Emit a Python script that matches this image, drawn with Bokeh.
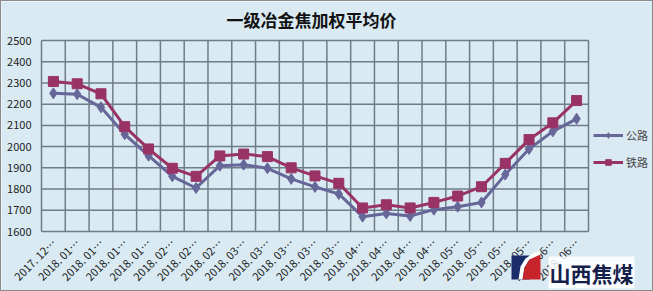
import math
from bokeh.plotting import figure
from bokeh.models import (Legend, LegendItem, FixedTicker, Label, Range1d, BoxAnnotation,
                          PolyAnnotation)
from bokeh.embed import file_html
from bokeh.resources import INLINE

title = "一级冶金焦加权平均价"
x_labels = ["2017. 12…", "2018. 01…", "2018. 01…", "2018. 01…", "2018. 01…",
            "2018. 02…", "2018. 02…", "2018. 02…", "2018. 03…", "2018. 03…",
            "2018. 03…", "2018. 03…", "2018. 03…", "2018. 04…", "2018. 04…",
            "2018. 04…", "2018. 04…", "2018. 05…", "2018. 05…", "2018. 05…",
            "2018. 05…", "2018. 06…", "2018. 06…"]
road = [2251, 2247, 2185, 2058, 1957, 1860, 1805, 1910, 1915, 1898, 1848, 1810,
        1777, 1670, 1685, 1673, 1703, 1717, 1737, 1868, 1989, 2072, 2131]
rail = [2307, 2296, 2249, 2094, 1989, 1898, 1860, 1956, 1965, 1953, 1900, 1862,
        1827, 1711, 1726, 1711, 1737, 1767, 1811, 1921, 2033, 2112, 2217]
series_names = ["公路", "铁路"]
y_ticks = list(range(1600, 2501, 100))
y_min, y_max = 1600, 2500
logo_text = "山西焦煤"

BG = "#D9EAF3"
GRID = "#6F7C89"
C_ROAD = "#666699"
C_RAIL = "#993366"
FONT = "Noto Sans CJK SC"

n = len(x_labels)
xs = list(range(n))

# pixel layout of the plotting area inside the canvas (canvas = frame)
PX_LEFT, PX_PLOT_W = 40, 547
PX_TOP, PX_PLOT_H = 39, 191
FW, FH = 651, 289
ux = PX_PLOT_W / n
uy = PX_PLOT_H / (y_max - y_min)
x0 = -0.5 - PX_LEFT / ux
x1 = x0 + FW / ux
y1 = y_max + PX_TOP / uy
y0 = y1 - FH / uy


def cx(px):
    return x0 + px / ux


def cy(py):
    return y1 - py / uy


p = figure(frame_width=FW, frame_height=FH, output_backend="svg", toolbar_location=None,
           x_range=Range1d(x0, x1), y_range=Range1d(y0, y1),
           min_border_left=0, min_border_right=0, min_border_top=0,
           min_border_bottom=0,
           background_fill_color=BG, border_fill_color=BG,
           styles={"border": "1px solid #8A8A8A"})
p.outline_line_color = None
p.grid.visible = False

# plot-area grid drawn through the scales from the tick arrays
bounds = [i - 0.5 for i in range(n + 1)]
p.segment(x0=[-0.5] * len(y_ticks), x1=[n - 0.5] * len(y_ticks), y0=y_ticks, y1=y_ticks,
          line_color=GRID, line_width=1.5)
p.segment(x0=bounds, x1=bounds, y0=[y_min] * len(bounds), y1=[y_max] * len(bounds),
          line_color=GRID, line_width=1.5)

p.xaxis.ticker = FixedTicker(ticks=xs)
p.xaxis.major_label_overrides = {i: s for i, s in enumerate(x_labels)}
p.xaxis.major_label_orientation = math.pi / 4
p.xaxis.fixed_location = y_min
p.yaxis.ticker = FixedTicker(ticks=y_ticks)
p.yaxis.fixed_location = -0.5
for ax in (p.xaxis, p.yaxis):
    ax.axis_line_color = None
    ax.major_tick_line_color = None
    ax.minor_tick_line_color = None
    ax.major_label_text_font = FONT
    ax.major_label_text_font_size = "11px"
    ax.major_label_text_color = "#222222"
p.yaxis.major_label_standoff = 4
p.xaxis.major_label_standoff = 3

l1 = p.line(xs, road, line_color=C_ROAD, line_width=3)
s1 = p.scatter(xs, road, marker="diamond", size=11, fill_color=C_ROAD, line_color=C_ROAD)
l2 = p.line(xs, rail, line_color=C_RAIL, line_width=3)
s2 = p.scatter(xs, rail, marker="square", size=10, fill_color=C_RAIL, line_color=C_RAIL)

legend = Legend(items=[LegendItem(label=series_names[0], renderers=[l1, s1]),
                       LegendItem(label=series_names[1], renderers=[l2, s2])],
                location=(592, 120), orientation="vertical",
                background_fill_alpha=0, border_line_color=None,
                label_text_font=FONT, label_text_font_size="11px",
                glyph_width=30, glyph_height=14, label_height=14, spacing=11,
                padding=2, margin=0, label_standoff=3)
p.add_layout(legend, "center")

p.add_layout(Label(x=cx(310), y=cy(18), text=title, text_align="center",
                   text_baseline="middle", text_font=FONT, text_font_size="17px",
                   text_font_style="bold", text_color="#111111"))

# watermark logo (decoration)
p.add_layout(BoxAnnotation(left=cx(510), right=cx(528), top=cy(254), bottom=cy(278),
                           fill_color="#1B2C6B", fill_alpha=1, line_color=None))
p.add_layout(PolyAnnotation(
    xs=[cx(v) for v in (517, 519, 524, 533, 539, 539, 528, 523, 521)],
    ys=[cy(v) for v in (278, 265, 257, 251, 250, 253, 258, 266, 278)],
    fill_color="white", fill_alpha=1, line_color=None))
p.add_layout(PolyAnnotation(
    xs=[cx(v) for v in (521, 523, 528, 539, 539)],
    ys=[cy(v) for v in (278, 266, 258, 253, 278)],
    fill_color="#C8242B", fill_alpha=1, line_color=None))
p.add_layout(Label(x=cx(547), y=cy(271), text=logo_text, text_align="left",
                   text_baseline="middle", text_font=FONT, text_font_size="21px",
                   text_font_style="bold", text_color="#15204A",
                   background_fill_color="white", background_fill_alpha=0.85,
                   padding=1))

open("out.html", "w").write(file_html(p, INLINE))
